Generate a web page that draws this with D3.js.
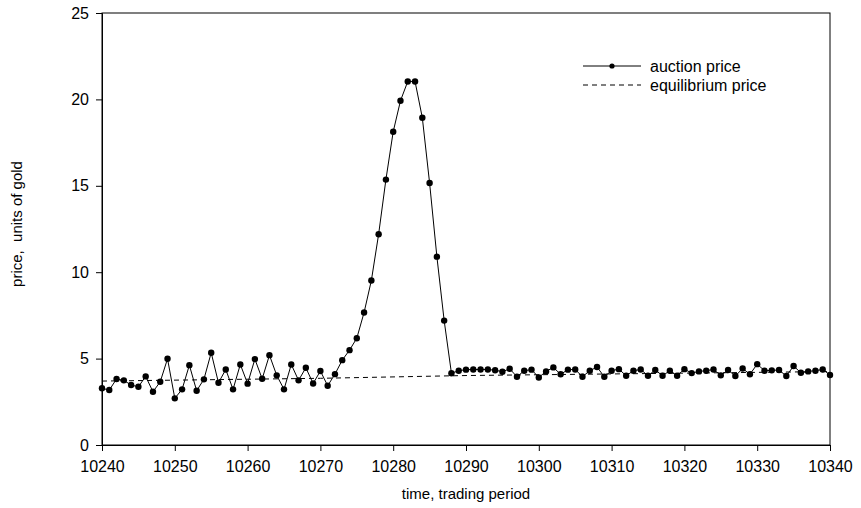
<!DOCTYPE html>
<html>
<head>
<meta charset="utf-8">
<script src="https://cdn.jsdelivr.net/npm/d3@7"></script>
<style>
  html, body { margin: 0; padding: 0; background: #fff; }
  svg text { font-family: "Liberation Sans", Arial, sans-serif; fill: #000; white-space: pre; }
</style>
</head>
<body>
<svg id="chart" width="861" height="508"></svg>
<script>
// ---- data ----
const startPeriod = 10240;
const auctionPrice = [
  3.28, 3.18, 3.82, 3.74, 3.47, 3.37, 3.97, 3.08, 3.66, 4.99,
  2.70, 3.22, 4.62, 3.14, 3.80, 5.34, 3.60, 4.37, 3.22, 4.66,
  3.55, 4.97, 3.83, 5.20, 4.03, 3.22, 4.66, 3.74, 4.47, 3.56,
  4.28, 3.43, 4.10, 4.91, 5.49, 6.18, 7.67, 9.52, 12.20, 15.36,
  18.13, 19.92, 21.04, 21.04, 18.94, 15.16, 10.90, 7.20, 4.15, 4.30,
  4.36, 4.37, 4.37, 4.37, 4.33, 4.24, 4.41, 3.95, 4.30, 4.36,
  3.91, 4.26, 4.49, 4.09, 4.36, 4.37, 3.95, 4.30, 4.51, 3.95,
  4.30, 4.39, 4.01, 4.30, 4.37, 4.01, 4.34, 4.01, 4.30, 4.01,
  4.39, 4.16, 4.26, 4.30, 4.37, 4.03, 4.34, 3.99, 4.43, 4.09,
  4.68, 4.30, 4.32, 4.34, 3.99, 4.57, 4.18, 4.26, 4.30, 4.37,
  4.05
];
const equilibriumPeriods = [10240, 10270, 10290, 10340];
const equilibriumPrice   = [3.70, 3.86, 4.02, 4.25];
const xTicks = [10240, 10250, 10260, 10270, 10280, 10290, 10300, 10310, 10320, 10330, 10340];
const yTicks = [0, 5, 10, 15, 20, 25];
const seriesNames = ["auction price", "equilibrium price"];

// ---- layout ----
const svg = d3.select("#chart");
const L = 102, R = 830, T = 13, B = 445;

const x = d3.scaleLinear().domain([10240, 10340]).range([L, R]);
const y = d3.scaleLinear().domain([0, 25]).range([B, T]);

const auction = auctionPrice.map((v, i) => ({ p: startPeriod + i, v }));
const equil = equilibriumPeriods.map((p, i) => ({ p, v: equilibriumPrice[i] }));

// frame
svg.append("rect")
  .attr("x", L).attr("y", T).attr("width", R - L).attr("height", B - T)
  .attr("fill", "none").attr("stroke", "#000").attr("stroke-width", 1);

// axes
const xAxis = d3.axisBottom(x).tickValues(xTicks).tickFormat(d3.format("d")).tickSize(6).tickPadding(10);
const yAxis = d3.axisLeft(y).tickValues(yTicks).tickFormat(d3.format("d")).tickSize(6).tickPadding(7);

const gx = svg.append("g").attr("transform", `translate(0,${B})`).call(xAxis);
const gy = svg.append("g").attr("transform", `translate(${L},0)`).call(yAxis);
[gx, gy].forEach(g => {
  g.select(".domain").attr("stroke", "#000");
  g.selectAll(".tick line").attr("stroke", "#000");
  g.selectAll(".tick text").style("font-size", "16px").attr("fill", "#000")
    .style("font-family", "'Liberation Sans', Arial, sans-serif");
});

// axis titles
svg.append("text")
  .attr("x", (L + R) / 2).attr("y", 499)
  .attr("text-anchor", "middle").style("font-size", "15px")
  .text("time, trading period");
svg.append("text")
  .attr("transform", `translate(22,224) rotate(-90)`)
  .attr("text-anchor", "middle").style("font-size", "15px")
  .text("price,  units of gold");

// equilibrium line (dashed)
svg.append("path")
  .datum(equil)
  .attr("fill", "none").attr("stroke", "#000").attr("stroke-width", 1)
  .attr("stroke-dasharray", "5,4")
  .attr("d", d3.line().x(d => x(d.p)).y(d => y(d.v)));

// auction price line + markers
svg.append("path")
  .datum(auction)
  .attr("fill", "none").attr("stroke", "#000").attr("stroke-width", 1)
  .attr("d", d3.line().x(d => x(d.p)).y(d => y(d.v)));

svg.append("g").selectAll("circle")
  .data(auction).join("circle")
  .attr("cx", d => x(d.p)).attr("cy", d => y(d.v))
  .attr("r", 3.2).attr("fill", "#000");

// legend
const lg = svg.append("g");
lg.append("line").attr("x1", 583).attr("x2", 641).attr("y1", 66).attr("y2", 66)
  .attr("stroke", "#000").attr("stroke-width", 1);
lg.append("circle").attr("cx", 612).attr("cy", 66).attr("r", 2.6).attr("fill", "#000");
lg.append("text").attr("x", 650).attr("y", 71.5).style("font-size", "16px").text(seriesNames[0]);
lg.append("line").attr("x1", 583).attr("x2", 641).attr("y1", 85).attr("y2", 85)
  .attr("stroke", "#000").attr("stroke-width", 1).attr("stroke-dasharray", "5,4");
lg.append("text").attr("x", 650).attr("y", 90.5).style("font-size", "16px").text(seriesNames[1]);
</script>
</body>
</html>
